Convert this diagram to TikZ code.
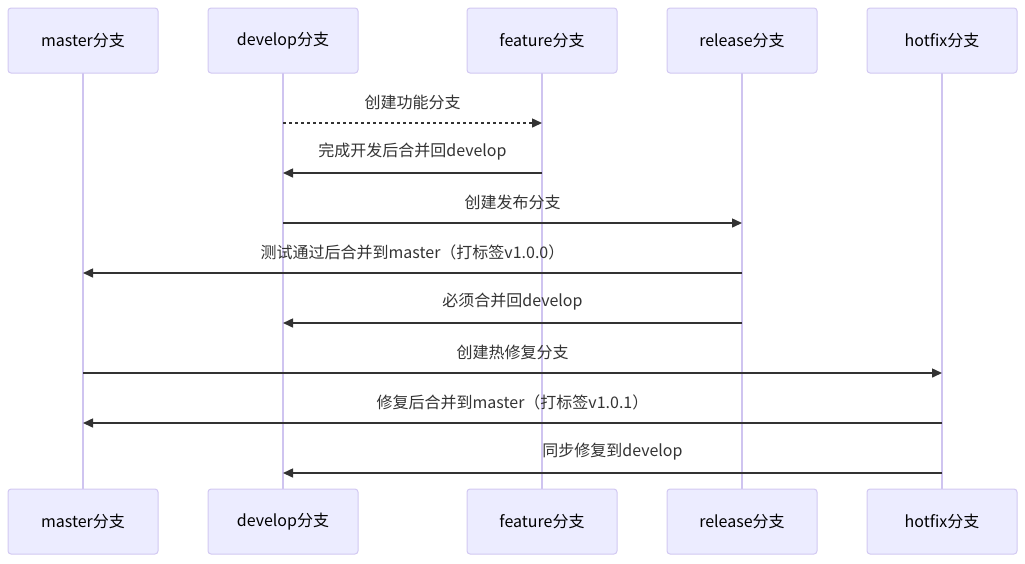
\documentclass[tikz,border=0pt]{standalone}
\usepackage{fontspec}
\setmainfont{Noto Sans CJK SC}
\usetikzlibrary{arrows.meta}
\definecolor{actfill}{HTML}{ECECFF}
\definecolor{actdraw}{HTML}{D2C8F2}
\definecolor{lifeline}{HTML}{CFC4F0}
\definecolor{txt}{HTML}{333333}
\tikzset{
  x=1pt, y=-1pt,
  actor/.style={draw=actdraw, fill=actfill, line width=1pt, rounded corners=3pt,
    minimum width=150pt, minimum height=65pt, inner sep=0pt, font=\fontsize{16}{19}\selectfont, text=black},
  life/.style={draw=lifeline, line width=1.2pt},
  msg/.style={draw=txt, line width=1.5pt, -{Triangle[length=10pt,width=9pt]}},
  dmsg/.style={msg, dash pattern=on 3pt off 3pt},
  lbl/.style={font=\fontsize{16}{19}\selectfont, text=txt, inner sep=0pt}
}
\begin{document}
\begin{tikzpicture}
\useasboundingbox (0,0) rectangle (1025,563);
\foreach \n/\x/\t in {m/83/master分支, d/283/develop分支, f/542/feature分支, r/742/release分支, h/942/hotfix分支}{
  \draw[life] (\x,73) -- (\x,489);
  \node[actor] (\n top) at (\x,40.5) {\t};
  \node[actor] (\n bot) at (\x,521.5) {\t};
}
\foreach \n/\x in {m/83, d/283, f/542, r/742, h/942}{
  \foreach \y in {123,173,223,273,323,373,423,473}{
    \coordinate (\n\y) at (\x,\y);
  }
}
\draw[dmsg] (d123) -- (f123) node[lbl, midway, above=12pt] {创建功能分支};
\draw[msg] (f173) -- (d173) node[lbl, midway, above=12pt] {完成开发后合并回develop};
\draw[msg] (d223) -- (r223) node[lbl, midway, above=12pt] {创建发布分支};
\draw[msg] (r273) -- (m273) node[lbl, midway, above=12pt] {测试通过后合并到master（打标签v1.0.0）};
\draw[msg] (r323) -- (d323) node[lbl, midway, above=12pt] {必须合并回develop};
\draw[msg] (m373) -- (h373) node[lbl, midway, above=12pt] {创建热修复分支};
\draw[msg] (h423) -- (m423) node[lbl, midway, above=12pt] {修复后合并到master（打标签v1.0.1）};
\draw[msg] (h473) -- (d473) node[lbl, midway, above=12pt] {同步修复到develop};
\end{tikzpicture}
\end{document}
